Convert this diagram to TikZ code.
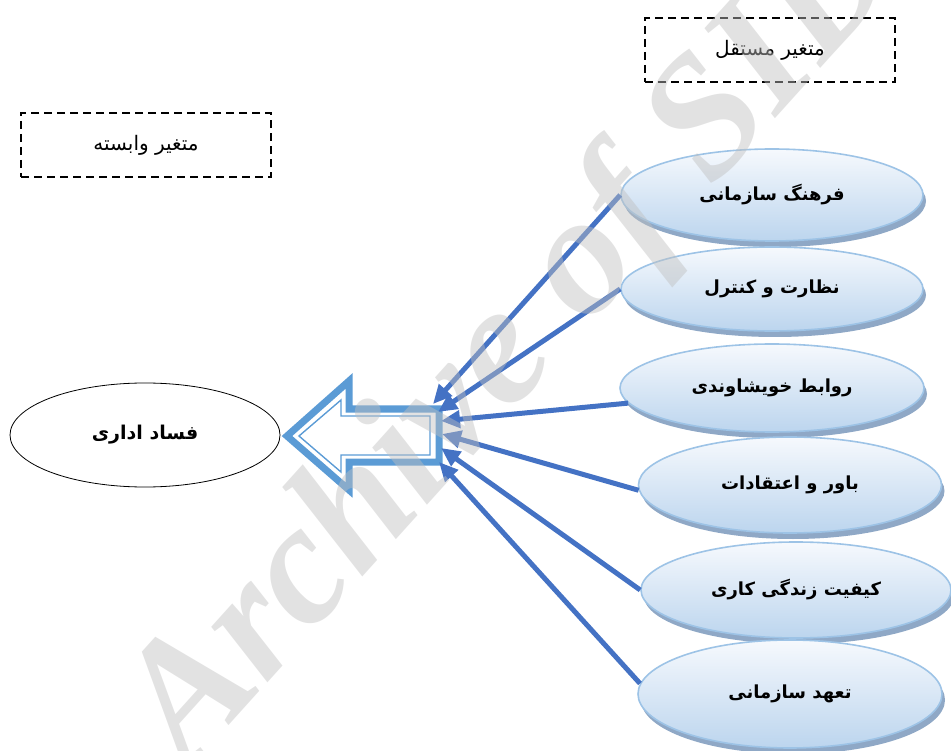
\documentclass[tikz,border=0pt]{standalone}
\usepackage{fontspec}
\usepackage{tikz}
\usetikzlibrary{shapes.geometric}
\usetikzlibrary{shadows}
\usetikzlibrary{arrows.meta}
\TeXXeTstate=1
\newfontfamily\arabicfont[Script=Arabic]{DejaVu Sans}
\newfontfamily\wmfont{Liberation Serif}

\definecolor{ellborder}{HTML}{9DC3E6}
\definecolor{elltop}{HTML}{F6F9FD}
\definecolor{ellbot}{HTML}{BCD5EE}
\definecolor{ellshadow}{HTML}{8FA8C6}
\definecolor{linkblue}{HTML}{4472C4}
\definecolor{bigarrow}{HTML}{5B9BD5}

\tikzset{
  varbox/.style={draw, line width=2.2pt, dash pattern=on 8pt off 5pt,
    minimum width=250pt, minimum height=64pt,
    font=\arabicfont\fontsize{20}{22}\selectfont},
  factor/.style={ellipse, draw=ellborder, line width=1.6pt,
    top color=elltop, bottom color=ellbot,
    drop shadow={shadow xshift=3pt, shadow yshift=-6pt, fill=ellshadow, opacity=1},
    font=\arabicfont\bfseries\fontsize{18}{20}\selectfont},
  link/.style={draw=linkblue, line width=5pt, -{Triangle[length=19pt,width=17pt]}},
  wmark/.style={text=gray!50, opacity=0.45, font=\wmfont\bfseries\itshape\fontsize{172}{180}\selectfont}
}

\begin{document}
\begin{tikzpicture}[x=1pt, y=-1pt]
  \useasboundingbox (0,0) rectangle (951,751);

  % variable labels
  \node[varbox] (mostaghel) at (770,50) {\beginR متغیر مستقل\endR};
  \node[varbox] (vabaste) at (146,145) {\beginR متغیر وابسته\endR};

  % dependent variable
  \node[ellipse, draw, line width=0.8pt, minimum width=270pt, minimum height=104pt,
    font=\arabicfont\bfseries\fontsize{19}{22}\selectfont] (fesad) at (145,435) {\beginR فساد اداری\endR};

  % independent variables
  \node[factor, minimum width=302pt, minimum height=92pt] (farhang) at (772,195) {\beginR فرهنگ سازمانی\endR};
  \node[factor, minimum width=302pt, minimum height=84pt] (nezarat) at (772,289) {\beginR نظارت و کنترل\endR};
  \node[factor, minimum width=304pt, minimum height=88pt] (ravabet) at (772,388) {\beginR روابط خویشاوندی\endR};
  \node[factor, minimum width=303pt, minimum height=96pt] (bavar) at (790,485) {\beginR باور و اعتقادات\endR};
  \node[factor, minimum width=310pt, minimum height=96pt] (keyfiat) at (796,590) {\beginR کیفیت زندگی کاری\endR};
  \node[factor, minimum width=304pt, minimum height=108pt] (taahod) at (790,694) {\beginR تعهد سازمانی\endR};

  % big hollow arrow
  \draw[bigarrow, line width=7pt, line join=miter] (287,436) -- (349,381) -- (349,409) -- (439,409)
    -- (439,462) -- (349,462) -- (349,490) -- cycle;
  \draw[bigarrow, line width=1.4pt, line join=miter] (299,436) -- (341,400) -- (341,416) -- (430,416)
    -- (430,455) -- (341,455) -- (341,472) -- cycle;

  \coordinate (t1) at (433,404);
  \coordinate (t2) at (438,412);
  \coordinate (t3) at (441,421);
  \coordinate (t4) at (442,434);
  \coordinate (t5) at (441,448);
  \coordinate (t6) at (439,462);

  \draw[link] (farhang.west) -- (t1);
  \draw[link] (nezarat.west) -- (t2);
  \draw[link] (ravabet.186) -- (t3);
  \draw[link] (bavar.182) -- (t4);
  \draw[link] (keyfiat.west) -- (t5);
  \draw[link] (taahod.176) -- (t6);

  % watermark
  \node[wmark, rotate=48] (sid) at (515,345) {Archive of SID};
\end{tikzpicture}
\end{document}
